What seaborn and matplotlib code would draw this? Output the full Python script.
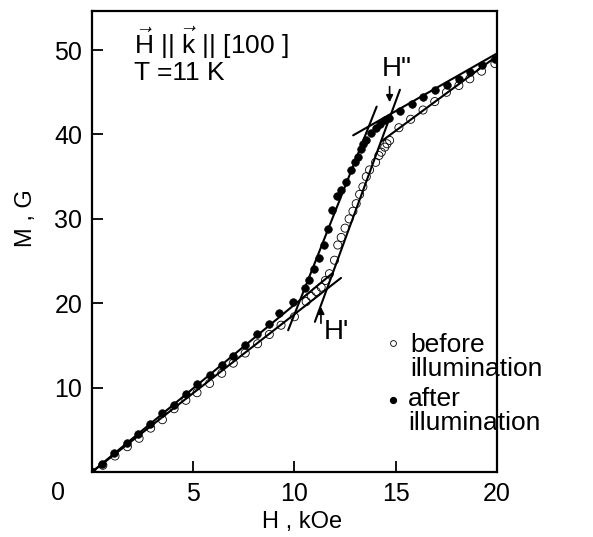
import matplotlib
matplotlib.use("Agg")
import matplotlib.pyplot as plt
import seaborn as sns
import pandas as pd

# magnetization curves (H in kOe, M in G)
h_after = [0, 0.50, 1.09, 1.73, 2.28, 2.87, 3.47, 4.06, 4.65, 5.20,
           5.84, 6.44, 6.98, 7.57, 8.17, 8.73, 9.26, 9.92, 10.50, 10.74,
           10.99, 11.19, 11.44, 11.65, 11.87, 12.11, 12.31, 12.56, 12.81, 12.97,
           13.13, 13.27, 13.38, 13.55, 13.80, 14.02, 14.22, 14.47, 14.68, 15.21,
           15.79, 16.36, 16.94, 17.51, 18.12, 18.66, 19.24, 19.90]
m_after = [0, 1.0, 2.2, 3.4, 4.5, 5.7, 7.0, 8.0, 9.2, 10.4,
           11.5, 12.7, 13.8, 15.0, 16.3, 17.6, 18.9, 20.2, 21.8, 22.7,
           24.0, 25.4, 26.9, 28.8, 31.0, 32.7, 33.4, 34.4, 35.8, 36.7,
           37.3, 38.3, 38.9, 39.3, 40.2, 40.8, 41.2, 41.7, 42.0, 42.8,
           43.6, 44.4, 45.3, 45.9, 46.6, 47.4, 48.2, 49.0]

h_before = [0, 0.54, 1.14, 1.75, 2.33, 2.90, 3.48, 4.06, 4.64, 5.19,
            5.81, 6.41, 6.98, 7.57, 8.18, 8.76, 9.34, 10.00, 10.58, 10.83,
            11.07, 11.32, 11.53, 11.73, 11.98, 12.14, 12.31, 12.50, 12.70, 12.89,
            13.05, 13.22, 13.38, 13.55, 13.71, 14.01, 14.17, 14.29, 14.46, 14.57,
            14.70, 15.16, 15.74, 16.35, 16.93, 17.51, 18.12, 18.66, 19.24, 19.90]
m_before = [0, 0.8, 1.9, 3.0, 4.0, 5.2, 6.2, 7.5, 8.5, 9.4,
            10.5, 11.7, 12.9, 14.1, 15.2, 16.3, 17.4, 18.4, 20.2, 20.8,
            21.4, 21.9, 22.7, 23.5, 25.1, 26.9, 27.8, 28.9, 30.0, 30.9,
            31.8, 32.9, 33.8, 35.0, 35.8, 36.7, 37.5, 37.9, 38.5, 38.9,
            39.3, 40.8, 41.8, 42.9, 43.9, 45.0, 45.8, 46.6, 47.5, 48.4]

# straight-line fits (end points)
fit_lines = {
    "after_low": ([0, 11.9], [0, 23.6]),
    "before_low": ([0, 12.3], [0, 23.0]),
    "after_steep": ([9.69, 14.06], [16.8, 43.3]),
    "before_steep": ([11.01, 15.21], [17.8, 45.3]),
    "after_high": ([12.9, 20.0], [39.9, 49.6]),
    "before_high": ([14.3, 20.0], [39.2, 49.3]),
}

x_ticks = [5, 10, 15, 20]
y_ticks = [10, 20, 30, 40, 50]

sns.set_style("ticks")
plt.rcParams["font.family"] = ["Liberation Sans", "DejaVu Sans"]
plt.rcParams["mathtext.fontset"] = "custom"
plt.rcParams["mathtext.rm"] = "Liberation Sans"
plt.rcParams["text.color"] = "black"
plt.rcParams["axes.labelcolor"] = "black"
plt.rcParams["xtick.color"] = "black"
plt.rcParams["ytick.color"] = "black"

fig = plt.figure(figsize=(5.93, 5.37), dpi=100)
ax = fig.add_axes([0.155, 0.121, 0.683, 0.858])

df_after = pd.DataFrame({"H": h_after, "M": m_after})
df_before = pd.DataFrame({"H": h_before, "M": m_before})

for name, (hx, my) in fit_lines.items():
    ax.plot(hx, my, color="black", lw=1.5, zorder=2)

sns.scatterplot(data=df_before, x="H", y="M", ax=ax, marker="o", s=34,
                facecolor="none", edgecolor="black", linewidth=0.6, zorder=3)
sns.scatterplot(data=df_after, x="H", y="M", ax=ax, marker="o", s=30,
                color="black", edgecolor="black", linewidth=0.5, zorder=4)

ax.set_xlim(0, 20)
ax.set_ylim(0, 54.6)
ax.set_xticks(x_ticks)
ax.set_yticks(y_ticks)
ax.tick_params(direction="in", length=8, width=1.3, labelsize=18, pad=7)
for sp in ax.spines.values():
    sp.set_linewidth(1.6)
    sp.set_color("black")

ax.set_xlabel("H , kOe", fontsize=17)
ax.set_ylabel("M , G", fontsize=17)
ax.xaxis.set_label_coords(0.52, -0.085)
ax.yaxis.set_label_coords(-0.135, 0.55)
ax.text(-0.084, -0.046, "0", transform=ax.transAxes, ha="center", va="center", fontsize=18)

ax.text(2.1, 50.9, r"$\vec{\mathrm{H}}$ || $\vec{\mathrm{k}}$ || [100 ]", fontsize=19, va="center")
ax.text(2.1, 47.3, "T =11 K", fontsize=19, va="center")

# H' and H'' markers
ax.annotate("", xy=(11.31, 19.9), xytext=(11.31, 17.3),
            arrowprops=dict(arrowstyle="-|>", color="black", lw=1.2, mutation_scale=10))
ax.text(11.45, 16.6, "H'", fontsize=20, va="center")
ax.annotate("", xy=(14.7, 43.5), xytext=(14.7, 46.0),
            arrowprops=dict(arrowstyle="-|>", color="black", lw=1.2, mutation_scale=10))
ax.text(14.3, 47.8, 'H"', fontsize=20, va="center")

# legend
ax.plot([14.86], [15.3], marker="o", ms=4.2, mfc="none", mec="black", mew=0.6, ls="none")
ax.text(15.7, 13.6, "before\nillumination", fontsize=19, va="center", linespacing=1.0)
ax.plot([14.86], [8.5], marker="o", ms=4.2, color="black", ls="none")
ax.text(15.6, 7.2, "after\nillumination", fontsize=19, va="center", linespacing=1.0)

fig.savefig("out.png", dpi=100)
